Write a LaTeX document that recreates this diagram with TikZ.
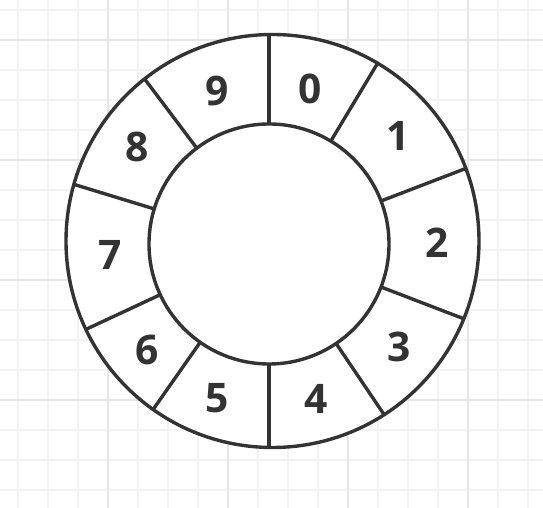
\documentclass[tikz,border=0pt]{standalone}
\usepackage{fontspec}
\setsansfont{Open Sans}
\definecolor{ink}{HTML}{333333}
\definecolor{gridminor}{HTML}{F2F2F2}
\definecolor{gridmajor}{HTML}{E6E6E6}
\begin{document}
\begin{tikzpicture}[x=0.5mm, y=0.5mm,
        minor/.style={gridminor, line width=0.9mm},
        major/.style={gridmajor, line width=0.9mm},
        ring/.style={ink, line width=1.7mm},
        digit/.style={font=\sffamily\bfseries\fontsize{58}{60}\selectfont, text=ink, inner sep=0pt}]
        \useasboundingbox (0,0) rectangle (543,508);
        \fill[white] (0,0) rectangle (543,508);

        \foreach \x in {18,48,...,528} \draw[minor] (\x,0) -- (\x,508);
        \foreach \y in {18,48,...,498} \draw[minor] (0,\y) -- (543,\y);
        \foreach \t in {108,228,348,468} \draw[major] (\t,0) -- (\t,508) (0,\t) -- (543,\t);

        \coordinate (OC) at (272.5, 267);
        \coordinate (IC) at (269, 264);

        \fill[white] (OC) circle[radius=206.5];
        \begin{scope}
            \clip (OC) circle[radius=206.5];
            \foreach \a in {90,59,21,-21,-56,-90,-125,-155,163,127}
                \draw[ring] (IC) ++(\a:120) -- ++(\a:110);
        \end{scope}
        \draw[ring] (OC) circle[radius=206.5];
        \draw[ring] (IC) circle[radius=120];

        \node[digit] (d0) at (310, 419) {0};
        \node[digit] (d1) at (398, 372) {1};
        \node[digit] (d2) at (437, 265) {2};
        \node[digit] (d3) at (399, 161) {3};
        \node[digit] (d4) at (316, 109) {4};
        \node[digit] (d5) at (217, 110) {5};
        \node[digit] (d6) at (147, 158) {6};
        \node[digit] (d7) at (110, 253) {7};
        \node[digit] (d8) at (137, 361) {8};
        \node[digit] (d9) at (217, 417) {9};
\end{tikzpicture}
\end{document}
